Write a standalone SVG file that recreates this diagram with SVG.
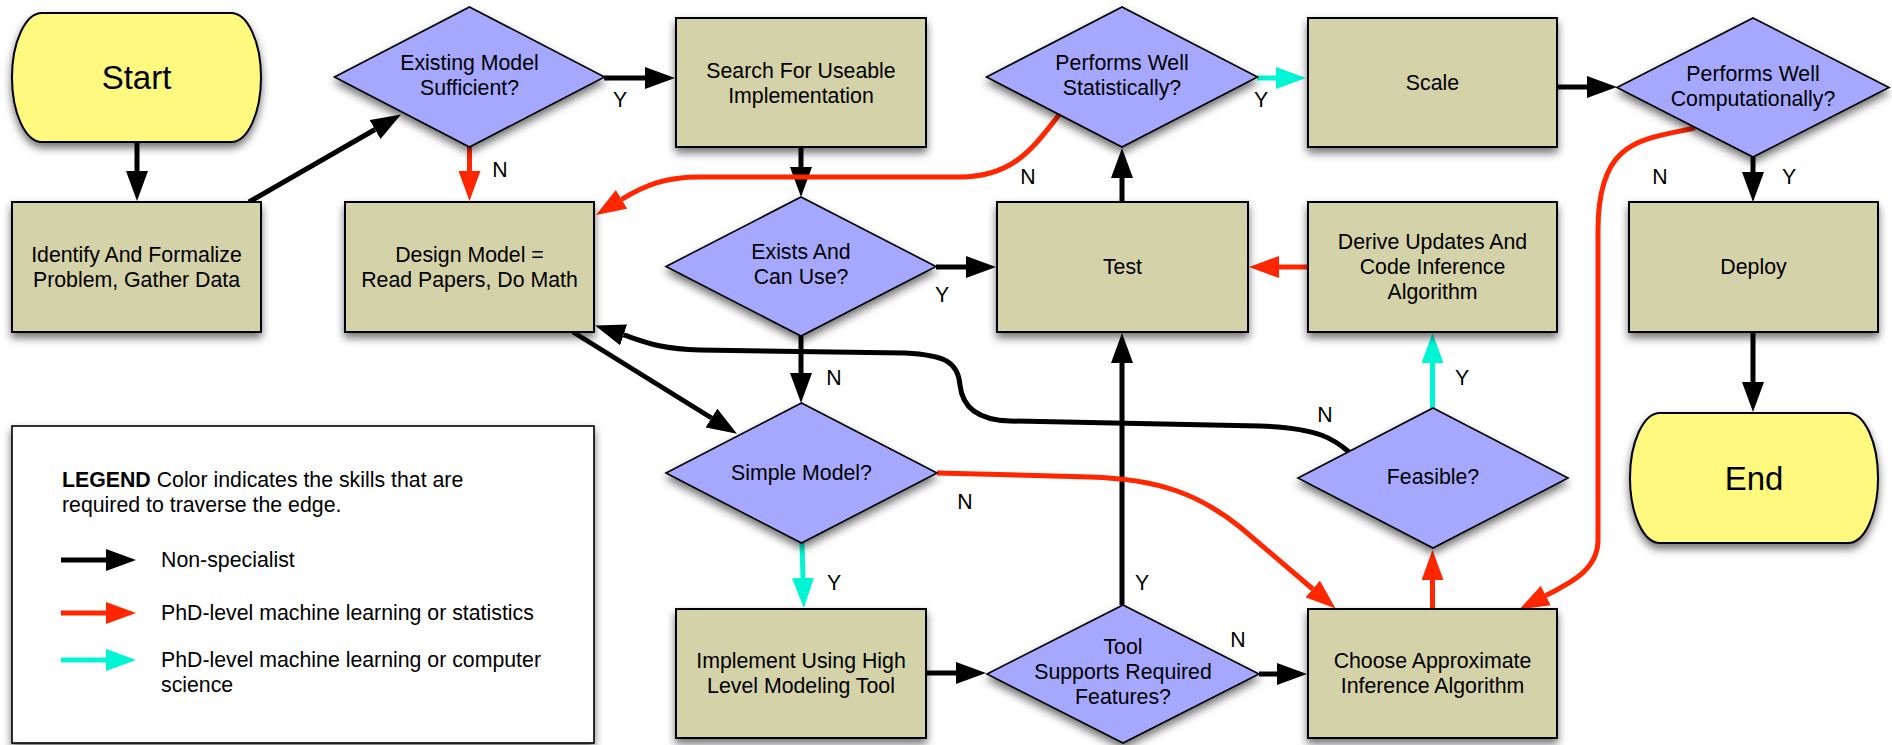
<svg xmlns="http://www.w3.org/2000/svg" width="1892" height="745" viewBox="0 0 1892 745">
<defs>
<filter id="sh" x="-10%" y="-10%" width="125%" height="135%">
<feDropShadow dx="0" dy="5" stdDeviation="4" flood-color="#000" flood-opacity="0.55"/>
</filter>
<marker id="ab" markerUnits="userSpaceOnUse" viewBox="0 0 30 22" markerWidth="30" markerHeight="22" refX="0" refY="11" orient="auto"><path d="M0,0 L30,11 L0,22 z" fill="#000"/></marker>
<marker id="ar" markerUnits="userSpaceOnUse" viewBox="0 0 30 22" markerWidth="30" markerHeight="22" refX="0" refY="11" orient="auto"><path d="M0,0 L30,11 L0,22 z" fill="#FF2600"/></marker>
<marker id="ac" markerUnits="userSpaceOnUse" viewBox="0 0 30 22" markerWidth="30" markerHeight="22" refX="0" refY="11" orient="auto"><path d="M0,0 L30,11 L0,22 z" fill="#00F5D4"/></marker>
<style>
text{font-family:"Liberation Sans",Arial,Helvetica,sans-serif;font-size:21.3px;fill:#000}
.c{text-anchor:middle}
.big{font-size:33px}
.box{fill:#D4D2A8;stroke:#000;stroke-width:2;filter:url(#sh)}
.dia{fill:#A6A8FF;stroke:#000;stroke-width:1.6;filter:url(#sh)}
.term{fill:#FFFA7F;stroke:#000;stroke-width:2;filter:url(#sh)}
.leg{fill:#fff;stroke:#000;stroke-width:1.6;filter:url(#sh)}
.k{fill:none;stroke:#000;stroke-width:5;marker-end:url(#ab)}
.r{fill:none;stroke:#FF2600;stroke-width:5;marker-end:url(#ar)}
.y{fill:none;stroke:#00F5D4;stroke-width:5;marker-end:url(#ac)}
</style>
</defs>
<rect width="1892" height="745" fill="#fff"/>

<g id="legend">
<rect class="leg" x="12" y="426" width="582" height="317"/>
<text x="62" y="487"><tspan font-weight="bold">LEGEND</tspan> Color indicates the skills that are</text>
<text x="62" y="512">required to traverse the edge.</text>
<path class="k" d="M61,560 L106,560"/>
<text x="161" y="567">Non-specialist</text>
<path class="r" d="M61,613 L106,613"/>
<text x="161" y="620">PhD-level machine learning or statistics</text>
<path class="y" d="M61,660 L106,660"/>
<text x="161" y="667">PhD-level machine learning or computer</text>
<text x="161" y="692">science</text>
</g>

<g id="connectors">
<path class="k" d="M137,142 L137,171"/>
<path class="k" d="M249,202 L375,129.5"/>
<path class="r" d="M469.5,147 L469.5,171"/>
<path class="k" d="M604,78 L645,78"/>
<path class="k" d="M801,147 L801,167"/>
<path class="k" d="M936,267 L966,267"/>
<path class="k" d="M1122,202 L1122,178"/>
<path class="y" d="M1257,78 L1276,78"/>
<path class="k" d="M1557,87 L1587,87"/>
<path class="k" d="M1753,157 L1753,172"/>
<path class="k" d="M1753,332 L1753,382"/>
<path class="r" d="M1308,267 L1279,267"/>
<path class="y" d="M1432.5,408 L1432.5,363"/>
<path class="r" d="M1432.5,609 L1432.5,580"/>
<path class="k" d="M801,336 L801,373"/>
<path class="k" d="M573,332 L711.5,418"/>
<path class="y" d="M802,543 L803,578"/>
<path class="k" d="M926,673 L956,673"/>
<path class="k" d="M1122,605 L1122,363"/>
<path class="k" d="M1259,674 L1277,674"/>
<path class="r" d="M937,473 L1090,477 C1160,479 1200,495 1240,527 L1312.7,589"/>
<path class="r" d="M1059,115 C1035,145 1015,177 960,177 L700,177 C665,177 645,185 621.6,199.3"/>
<path class="r" d="M1695,128 C1640,140 1598,140 1598,230 L1598,540 C1598,570 1570,583 1545.8,595.6"/>
<path class="k" d="M1349,452 C1335,440 1320,428 1260,426 L1010,421 C975,420 962,405 960,385 C958,362 945,355 905,353 L700,350 C660,349 645,342 623.6,334.9"/>
<text class="c" x="620" y="107">Y</text>
<text class="c" x="500" y="177">N</text>
<text class="c" x="1028" y="184">N</text>
<text class="c" x="942" y="302">Y</text>
<text class="c" x="1261" y="107">Y</text>
<text class="c" x="1660" y="184">N</text>
<text class="c" x="1789" y="184">Y</text>
<text class="c" x="834" y="385">N</text>
<text class="c" x="1462" y="385">Y</text>
<text class="c" x="1325" y="422">N</text>
<text class="c" x="965" y="509">N</text>
<text class="c" x="834" y="590">Y</text>
<text class="c" x="1142" y="590">Y</text>
<text class="c" x="1238" y="647">N</text>
</g>

<g id="start">
<rect class="term" x="12" y="13" width="249" height="129" rx="30" ry="64.5"/>
<text class="c big" x="136.5" y="89">Start</text>
</g>
<g id="identify">
<rect class="box" x="12" y="202" width="249" height="130"/>
<text class="c" x="136.5" y="262">Identify And Formalize</text>
<text class="c" x="136.5" y="287">Problem, Gather Data</text>
</g>
<g id="existing">
<polygon class="dia" points="469.5,7 604.5,77 469.5,147 334.5,77"/>
<text class="c" x="469.5" y="70">Existing Model</text>
<text class="c" x="469.5" y="95">Sufficient?</text>
</g>
<g id="design">
<rect class="box" x="345" y="202" width="249" height="130"/>
<text class="c" x="469.5" y="262">Design Model =</text>
<text class="c" x="469.5" y="287">Read Papers, Do Math</text>
</g>
<g id="search">
<rect class="box" x="676" y="18" width="250" height="129"/>
<text class="c" x="801" y="77.5">Search For Useable</text>
<text class="c" x="801" y="102.5">Implementation</text>
</g>
<g id="exists">
<polygon class="dia" points="801,197 936,266.5 801,336 666,266.5"/>
<text class="c" x="801" y="259">Exists And</text>
<text class="c" x="801" y="284">Can Use?</text>
</g>
<g id="simple">
<polygon class="dia" points="801.5,403 937,473 801.5,543 666,473"/>
<text class="c" x="801.5" y="480">Simple Model?</text>
</g>
<g id="implement">
<rect class="box" x="676" y="609" width="250" height="129"/>
<text class="c" x="801" y="668">Implement Using High</text>
<text class="c" x="801" y="693">Level Modeling Tool</text>
</g>
<g id="tool">
<polygon class="dia" points="1123,605 1259,674 1123,743 987,674"/>
<text class="c" x="1123" y="654">Tool</text>
<text class="c" x="1123" y="679">Supports Required</text>
<text class="c" x="1123" y="704">Features?</text>
</g>
<g id="test">
<rect class="box" x="997" y="202" width="251" height="130"/>
<text class="c" x="1122.5" y="274">Test</text>
</g>
<g id="perfstat">
<polygon class="dia" points="1122,7 1257.5,77 1122,147 986.5,77"/>
<text class="c" x="1122" y="70">Performs Well</text>
<text class="c" x="1122" y="95">Statistically?</text>
</g>
<g id="scale">
<rect class="box" x="1308" y="18" width="249" height="129"/>
<text class="c" x="1432.5" y="90">Scale</text>
</g>
<g id="derive">
<rect class="box" x="1308" y="202" width="249" height="130"/>
<text class="c" x="1432.5" y="249">Derive Updates And</text>
<text class="c" x="1432.5" y="274">Code Inference</text>
<text class="c" x="1432.5" y="299">Algorithm</text>
</g>
<g id="feasible">
<polygon class="dia" points="1433,408 1568,478 1433,548 1298,478"/>
<text class="c" x="1433" y="484">Feasible?</text>
</g>
<g id="choose">
<rect class="box" x="1308" y="609" width="249" height="129"/>
<text class="c" x="1432.5" y="668">Choose Approximate</text>
<text class="c" x="1432.5" y="693">Inference Algorithm</text>
</g>
<g id="perfcomp">
<polygon class="dia" points="1753,18 1889,87.5 1753,157 1617,87.5"/>
<text class="c" x="1753" y="81">Performs Well</text>
<text class="c" x="1753" y="106">Computationally?</text>
</g>
<g id="deploy">
<rect class="box" x="1629" y="202" width="249" height="130"/>
<text class="c" x="1753.5" y="274">Deploy</text>
</g>
<g id="end">
<rect class="term" x="1630" y="413" width="248" height="130" rx="30" ry="65"/>
<text class="c big" x="1754" y="490">End</text>
</g>
</svg>
